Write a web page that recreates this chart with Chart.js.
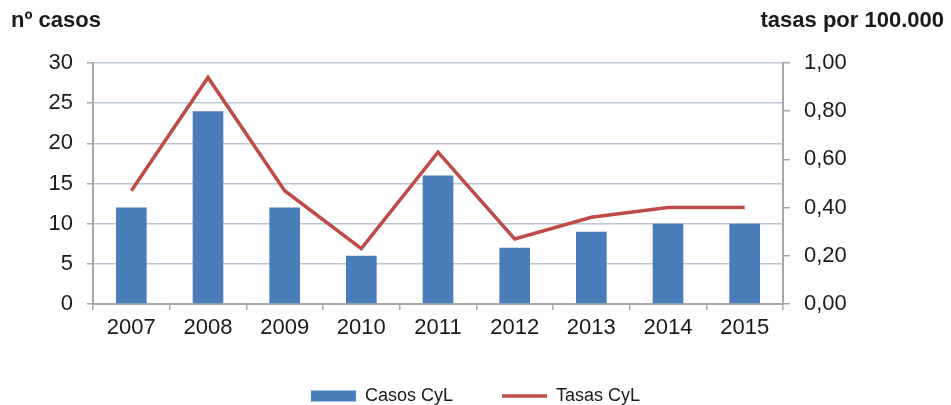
<!DOCTYPE html>
<html>
<head>
<meta charset="utf-8">
<script src="https://cdn.jsdelivr.net/npm/chart.js@4/dist/chart.umd.min.js"></script>
<style>
  html, body { margin: 0; padding: 0; background: #ffffff; }
  #wrap { position: relative; width: 951px; height: 405px; }
  canvas { position: absolute; left: 0; top: 0; }
  .hdr { position: absolute; font-family: "Liberation Sans", Arial, sans-serif; font-weight: bold; font-size: 22px; color: #1a1a1a; white-space: nowrap; }
</style>
</head>
<body>
<div id="wrap">
  <canvas id="c" width="951" height="405"></canvas>
  <div class="hdr" id="hl" style="left:11px; top:7px;">nº casos</div>
  <div class="hdr" id="hr" style="right:7px; top:7px;">tasas por 100.000</div>
</div>
<script>
const years = ['2007','2008','2009','2010','2011','2012','2013','2014','2015'];
const casosCyL = [12, 24, 12, 6, 16, 7, 9, 10, 10];
const tasasCyL = [0.47, 0.94, 0.47, 0.23, 0.63, 0.27, 0.36, 0.40, 0.40];
const leftTicks = ['0', '5', '10', '15', '20', '25', '30'];
const rightTicks = ['0,00', '0,20', '0,40', '0,60', '0,80', '1,00'];

const FONT = '"Liberation Sans", Arial, sans-serif';
const axisColor = '#a8a8a8';
const gridColor = '#bcc5d2';
const labelColor = '#1a1a1a';

new Chart(document.getElementById('c'), {
  data: {
    labels: years,
    datasets: [
      {
        type: 'bar',
        label: 'Casos CyL',
        data: casosCyL,
        backgroundColor: '#4a7ebb',
        borderWidth: 0,
        barPercentage: 0.4,
        categoryPercentage: 1.0,
        yAxisID: 'y',
        order: 2,
        pointStyle: 'rect'
      },
      {
        type: 'line',
        label: 'Tasas CyL',
        data: tasasCyL,
        borderColor: '#be4b48',
        backgroundColor: '#be4b48',
        borderWidth: 3.5,
        pointRadius: 0,
        pointHoverRadius: 0,
        tension: 0,
        yAxisID: 'y1',
        order: 1,
        pointStyle: 'line'
      }
    ]
  },
  options: {
    responsive: false,
    animation: false,
    devicePixelRatio: 1,
    layout: { padding: { top: 63, left: 0, right: 0, bottom: -10 } },
    plugins: {
      tooltip: { enabled: false },
      legend: {
        position: 'bottom',
        labels: {
          usePointStyle: true,
          pointStyleWidth: 45,
          boxHeight: 11,
          padding: 49,
          color: labelColor,
          font: { family: FONT, size: 18 },
          sort: (a, b) => a.datasetIndex - b.datasetIndex
        }
      }
    },
    scales: {
      x: {
        offset: true,
        grid: { offset: true, drawOnChartArea: false, drawTicks: true, tickLength: 6, tickColor: axisColor, lineWidth: 1.5 },
        border: { color: axisColor, width: 2 },
        ticks: { color: labelColor, padding: 5, font: { family: FONT, size: 22 }, maxRotation: 0 },
        afterFit: (s) => { s.height = 34; }
      },
      y: {
        position: 'left',
        min: 0, max: 30,
        ticks: {
          stepSize: 5, padding: 14, color: labelColor,
          font: { family: FONT, size: 22 },
          callback: (v) => leftTicks[Math.round(v / 5)]
        },
        grid: { color: gridColor, lineWidth: 1.5, tickLength: 6, tickColor: axisColor },
        border: { color: axisColor, width: 2 },
        afterFit: (s) => { s.width = 93; }
      },
      y1: {
        position: 'right',
        min: 0, max: 1,
        ticks: {
          stepSize: 0.2, padding: 14, color: labelColor,
          font: { family: FONT, size: 22 },
          callback: (v) => rightTicks[Math.round(v / 0.2)]
        },
        grid: { drawOnChartArea: false, tickLength: 7, tickColor: axisColor, lineWidth: 1.5 },
        border: { color: axisColor, width: 2 },
        afterFit: (s) => { s.width = 951 - 783; }
      }
    }
  }
});
</script>
</body>
</html>
